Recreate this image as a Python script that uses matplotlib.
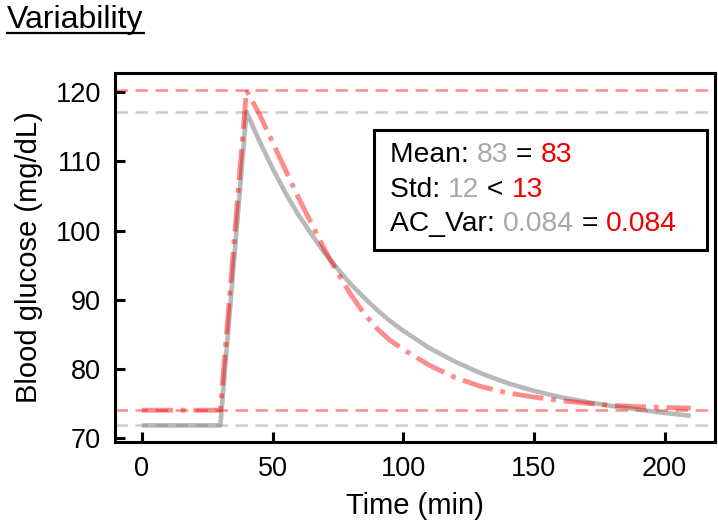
import numpy as np
import matplotlib
matplotlib.use("Agg")
import matplotlib.pyplot as plt
from matplotlib.patches import Rectangle
from matplotlib.lines import Line2D

plt.rcParams['font.family'] = ['Liberation Sans', 'DejaVu Sans']

# Values
time_gray = [0, 30, 40, 45, 50, 55, 60, 65, 70, 75, 80, 85, 90, 95, 100,
             110, 120, 130, 140, 150, 160, 170, 180, 190, 200, 210]
glucose_gray = [71.8, 71.8, 117.2, 112.9, 109.0, 105.4, 102.2, 99.4, 96.7, 94.4,
                92.2, 90.3, 88.5, 86.9, 85.5, 83.0, 81.0, 79.3, 77.9, 76.8,
                75.9, 75.2, 74.6, 74.1, 73.6, 73.2]

time_red = [0, 30, 40, 45, 50, 55, 60, 65, 70, 75, 80, 85, 90, 95, 100,
            110, 120, 130, 140, 150, 160, 170, 180, 190, 200, 210]
glucose_red = [74.0, 74.0, 120.3, 116.8, 112.8, 108.7, 104.7, 100.9, 97.2, 93.8,
               90.7, 88.0, 85.8, 84.1, 82.8, 80.5, 78.7, 77.4, 76.5, 75.9,
               75.4, 75.0, 74.7, 74.5, 74.4, 74.3]

stat_lines = [
    ("Mean: ", "83", " = ", "83"),
    ("Std: ", "12", " < ", "13"),
    ("AC_Var: ", "0.084", " = ", "0.084"),
]

GRAY_TXT = '#a8a8a8'
RED_TXT = '#ee0000'

fig = plt.figure(figsize=(7.18, 5.23), dpi=100)
ax = fig.add_axes([115 / 718, 1 - 442 / 523, 600 / 718, 369 / 523])

ax.plot(time_gray, glucose_gray, color='gray', alpha=0.55, lw=3.3, solid_capstyle='butt', zorder=3)
ax.plot(time_red, glucose_red, color='red', alpha=0.45, lw=3.5, linestyle='-.', zorder=4)

# max / min reference lines
ax.axhline(np.max(glucose_red), color='red', alpha=0.45, lw=1.8, linestyle=(0, (5, 3)), zorder=2)
ax.axhline(np.max(glucose_gray), color='gray', alpha=0.4, lw=1.8, linestyle=(0, (5, 3)), zorder=2)
ax.axhline(np.min(glucose_red), color='red', alpha=0.45, lw=1.8, linestyle=(0, (5, 3)), zorder=2)
ax.axhline(np.min(glucose_gray), color='gray', alpha=0.4, lw=1.8, linestyle=(0, (5, 3)), zorder=2)

ax.set_xlim(-10.3, 219.3)
ax.set_ylim(69.4, 122.8)
ax.set_xticks([0, 50, 100, 150, 200])
ax.set_yticks([70, 80, 90, 100, 110, 120])

for s in ax.spines.values():
    s.set_linewidth(2.2)
ax.tick_params(direction='in', length=7, width=2.2, labelsize=19.5, pad=10,
               top=False, right=False)
ax.set_xlabel("Time (min)", fontsize=21, labelpad=7)
ax.set_ylabel("Blood glucose (mg/dL)", fontsize=21, labelpad=9)

# stats box
box = Rectangle((0.432, 0.52), 0.555, 0.326, transform=ax.transAxes,
                facecolor='white', edgecolor='black', lw=2.2, zorder=6)
ax.add_patch(box)
baselines = [0.759, 0.664, 0.571]
for (lab, g, op, r), yb in zip(stat_lines, baselines):
    t = ax.text(0.458, yb, lab, transform=ax.transAxes, fontsize=20.3,
                va='baseline', color='black', zorder=7)
    for piece, col in [(g, GRAY_TXT), (op, 'black'), (r, RED_TXT)]:
        t = ax.annotate(piece, xy=(1, 0), xycoords=t, va='bottom', ha='left',
                        fontsize=20.3, color=col, zorder=7)

# underlined title
title = fig.text(7 / 718, 1 - 28 / 523, "Variability", fontsize=23, va='baseline', ha='left')
fig.canvas.draw()
bb = title.get_window_extent(fig.canvas.get_renderer()).transformed(fig.transFigure.inverted())
uy = 1 - 33 / 523
fig.add_artist(Line2D([bb.x0, bb.x1], [uy, uy], transform=fig.transFigure, color='black', lw=1.6))

fig.savefig("out.png", dpi=100)
